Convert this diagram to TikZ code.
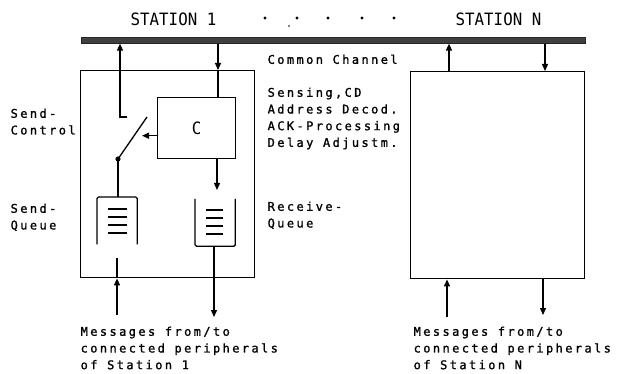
\documentclass[tikz,border=0pt]{standalone}
\usepackage{fontspec}
\newfontfamily\plotfont[LetterSpace=20,FakeBold=1.2]{DejaVu Sans Mono}
\newfontfamily\titlefont[FakeStretch=0.93]{DejaVu Sans Mono}
\usetikzlibrary{arrows.meta,positioning}

\begin{document}
\begin{tikzpicture}[x=1pt,y=-1pt,line width=1.3pt,
		arr/.style={-{Triangle[length=7pt,width=6pt]}},
		box/.style={draw,line width=1.4pt,anchor=north west,inner sep=0pt},
		queue/.style={anchor=north west,inner sep=0pt,minimum width=39pt,minimum height=46pt},
		lbl/.style={font=\plotfont\fontsize{12}{16.7}\selectfont,align=left,anchor=north west,inner sep=0pt},
		ttl/.style={font=\titlefont\fontsize{17}{20}\selectfont,inner sep=0pt}]
		\useasboundingbox (0,0) rectangle (618,374);
		
		% Channel and stations
		\node[ttl] (t1) at (173.5,19.5) {STATION 1};
		\node[ttl] (tN) at (498.5,19.5) {STATION N};
		\foreach \x in {265,297,328,362,394} \fill (\x,18) circle (1.6);
		\fill (289,26) circle (0.8);
		\node[box,fill=black!75,draw=black!85,line width=0.6pt,minimum width=504pt,minimum height=6pt] (chan) at (81,37) {};
		\node[lbl] (cc) at (267,54) {Common Channel};
		\node[box,minimum width=174pt,minimum height=207pt] (st1) at (80,70) {};
		\node[box,minimum width=174pt,minimum height=207pt] (stN) at (410,71) {};
		
		% Station 1 inside
		\node[box,minimum width=78pt,minimum height=61pt,font=\titlefont\fontsize{17}{20}\selectfont] (ctl) at (157,97) {C};
		\node[queue] (qsend) at (97,197) {};
		\node[queue] (qrecv) at (195,199) {};
		\draw[rounded corners=1.5pt] (qsend.south west) |- (qsend.north east) -- (qsend.south east);
		\draw[rounded corners=1.5pt] (qrecv.north west) |- (qrecv.south east) -- (qrecv.north east);
		\foreach \y in {209,217,225,233} {
			\draw[line width=1.5pt] (108,\y) -- (127,\y);
			\draw[line width=1.5pt] (206,\y+1) -- (223,\y+1);
		}
		
		% Send control and switch
		\coordinate (sw) at (127,117);
		\coordinate (sc) at (120,117);
		\coordinate (pivot) at (118,159);
		\draw[arr] (sw) -- (sc) -- (sc |- chan.south);
		\draw (pivot) -- (147,117);
		\fill (pivot) circle (2.6);
		\draw (pivot) -- (qsend.north -| pivot);
		\draw[arr] ([yshift=-7.5pt]ctl.west) -- ++(-15,0);
		
		% Receive path
		\coordinate (rx) at (218,97);
		\draw[arr] (rx |- chan.south) -- (rx |- st1.north);
		\draw (rx |- st1.north) -- (rx);
		\coordinate (rxq) at (217,190);
		\draw[arr] (rxq |- ctl.south) -- (rxq);
		\coordinate (out1) at (214,317);
		\draw[arr] (qrecv.south -| out1) -- (out1);
		\coordinate (in1) at (117,315);
		\coordinate (sqin) at (117,258);
		\draw[arr] (in1) -- (in1 |- st1.south);
		\draw (in1 |- st1.south) -- (sqin);
		
		% Station N
		\coordinate (txN) at (449,71);
		\coordinate (rxN) at (545,71);
		\coordinate (inN) at (447,317);
		\coordinate (outN) at (543,315);
		\draw[arr] (txN) -- (txN |- chan.south);
		\draw[arr] (rxN |- chan.south) -- (rxN);
		\draw[arr] (inN) -- (inN |- stN.south);
		\draw[arr] (outN |- stN.south) -- (outN);
		
		% Labels
		\node[lbl] (lsendctl) at (10,108) {Send-\\Control};
		\node[lbl] (lsendq) at (10,203) {Send-\\Queue};
		\node[lbl] (tasks) at (267,87) {Sensing,CD\\Address Decod.\\ACK-Processing\\Delay Adjustm.};
		\node[lbl] (lrecvq) at (267,201) {Receive-\\Queue};
		\node[lbl] (msg1) at (80,326) {Messages from/to\\connected peripherals\\of Station 1};
		\node[lbl] (msgN) at (413,326) {Messages from/to\\connected peripherals\\of Station N};
	\end{tikzpicture}
\end{document}
